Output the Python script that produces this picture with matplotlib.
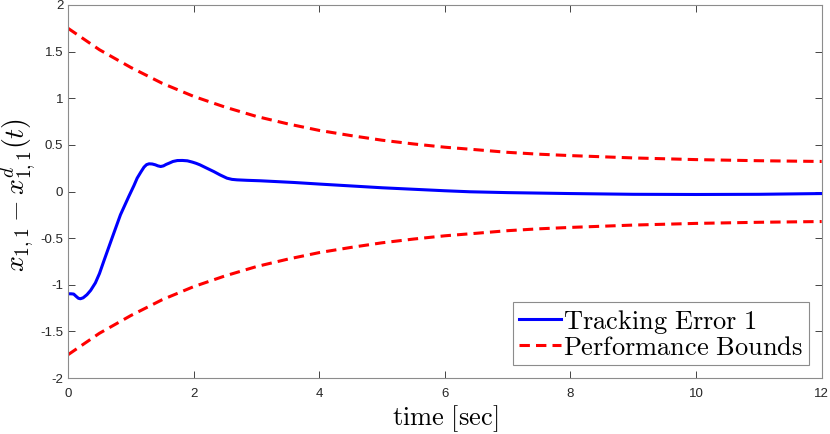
import matplotlib
matplotlib.use("Agg")
import matplotlib.pyplot as plt

plt.rcParams['mathtext.fontset'] = 'cm'
plt.rcParams['font.family'] = ['Liberation Sans', 'DejaVu Sans']

# tracking error
t_err = [0, 0.05, 0.09, 0.13, 0.165, 0.196, 0.24, 0.30, 0.36, 0.435, 0.50, 0.57,
         0.70, 0.834, 0.967, 1.05, 1.10, 1.16, 1.21, 1.25, 1.29, 1.34, 1.39, 1.43,
         1.475, 1.52, 1.56, 1.61, 1.67, 1.74, 1.82, 1.90, 1.98, 2.04, 2.10, 2.20,
         2.32, 2.42, 2.53, 2.61, 2.69, 2.85, 3.06, 3.59, 4.02, 5.0, 6.0, 6.4, 7.0,
         8.0, 9.0, 10.0, 11.0, 12.0]
err = [-1.097, -1.097, -1.10, -1.125, -1.145, -1.15, -1.14, -1.107, -1.06, -0.98,
       -0.88, -0.745, -0.50, -0.25, -0.053, 0.065, 0.143, 0.21, 0.262, 0.288,
       0.297, 0.295, 0.286, 0.275, 0.268, 0.275, 0.29, 0.304, 0.322, 0.332,
       0.333, 0.329, 0.315, 0.302, 0.286, 0.253, 0.214, 0.178, 0.143, 0.13,
       0.125, 0.12, 0.115, 0.097, 0.079, 0.04, 0.008, -0.003, -0.012, -0.022,
       -0.03, -0.032, -0.03, -0.022]

# performance bound (upper), lower is the mirror
t_bnd = [0, 0.5, 1, 1.5, 2, 2.5, 3, 3.5, 4, 4.5, 5, 5.5, 6, 6.5, 7, 7.5, 8, 9, 10, 11, 12]
bnd = [1.75, 1.52, 1.33, 1.16, 1.02, 0.905, 0.805, 0.725, 0.655, 0.60, 0.55,
       0.51, 0.475, 0.448, 0.42, 0.40, 0.385, 0.36, 0.342, 0.33, 0.322]
lower = [-b for b in bnd]

fig = plt.figure(figsize=(8.3, 4.34), dpi=100)
ax = fig.add_axes([0.082, 0.129, 0.908, 0.8595])

dash = (0, (3.4, 2.0))
ax.plot(t_err, err, color='#0000ff', lw=2.2, label='Tracking Error 1')
ax.plot(t_bnd, bnd, color='#ff0000', lw=2.2, ls=dash, label='Performance Bounds')
ax.plot(t_bnd, lower, color='#ff0000', lw=2.2, ls=dash)

ax.set_xlim(0, 12)
ax.set_ylim(-2, 2)
ax.set_xticks(range(0, 13, 2))
ax.set_yticks([-2, -1.5, -1, -0.5, 0, 0.5, 1, 1.5, 2])
ax.set_yticklabels(['-2', '-1.5', '-1', '-0.5', '0', '0.5', '1', '1.5', '2'])
ax.tick_params(direction='in', top=True, right=True, labelsize=9.5,
               colors='#262626', length=5, width=0.6)
ax.tick_params(axis='x', pad=7)
for s in ax.spines.values():
    s.set_color('#8c8c8c')
    s.set_linewidth(0.8)

ax.set_xlabel(r'$\mathrm{time\ [sec]}$', fontsize=19)
ax.xaxis.set_label_coords(0.5, -0.068)
ax.set_ylabel(r'$x_{1,1} - x^d_{1,1}(t)$', fontsize=20)
ax.yaxis.set_label_coords(-0.039, 0.49)

leg = ax.legend(loc='lower right', prop={'size': 19},
                fancybox=False, edgecolor='#8c8c8c', framealpha=1,
                handlelength=1.6, handletextpad=0.1, borderpad=0.2,
                labelspacing=0.0, borderaxespad=0.5)
for txt in leg.get_texts():
    txt.set_text(r'$\mathrm{%s}$' % txt.get_text().replace(' ', r'\ '))
leg.get_frame().set_linewidth(0.8)

fig.savefig('out.png', dpi=100)
